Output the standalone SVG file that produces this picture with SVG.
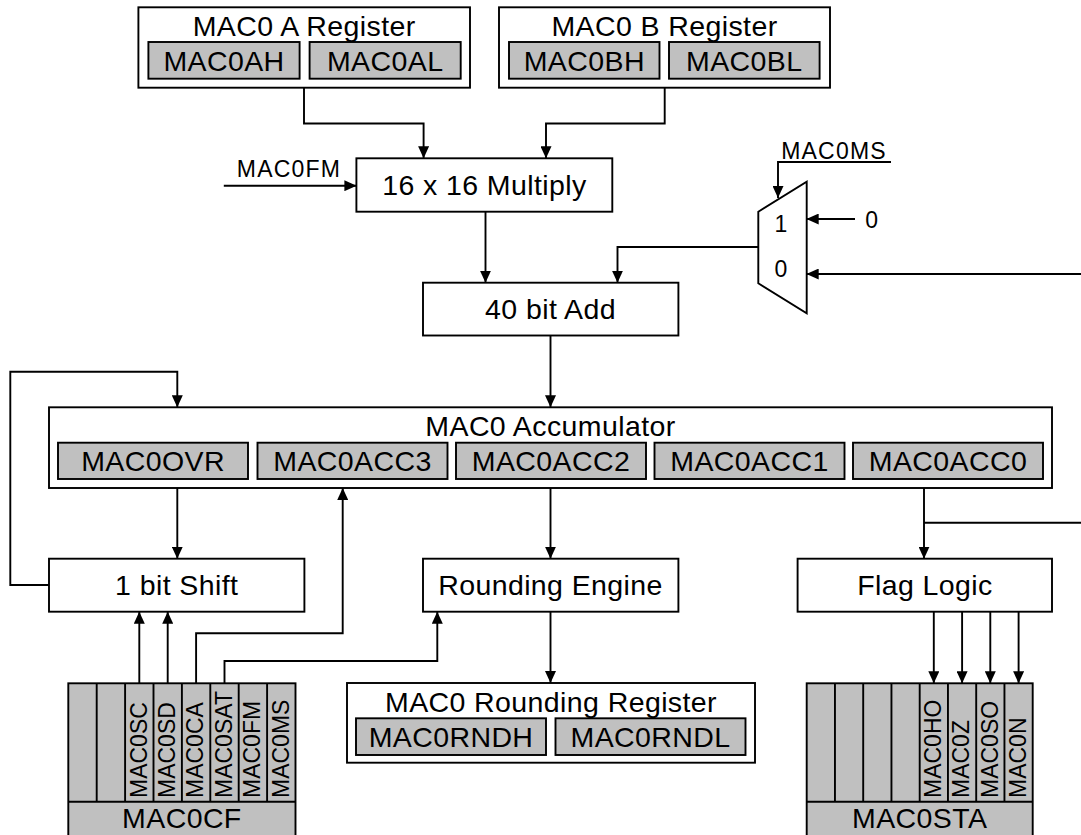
<svg xmlns="http://www.w3.org/2000/svg" width="1081" height="835" viewBox="0 0 1081 835">
<style>
.box{fill:#fff;stroke:#000;stroke-width:1.9}
.reg{fill:#c0c0c0;stroke:#000;stroke-width:1.9}
.dv{stroke:#000;stroke-width:1.9;fill:none}
.t{font-family:"Liberation Sans",Arial,sans-serif;font-size:28.5px;letter-spacing:0.4px;text-anchor:middle;fill:#000}
.s{font-family:"Liberation Sans",Arial,sans-serif;font-size:23px;letter-spacing:1.2px;text-anchor:middle;fill:#000}
.d{font-family:"Liberation Sans",Arial,sans-serif;font-size:23px;text-anchor:middle;fill:#000}
.v{font-family:"Liberation Sans",Arial,sans-serif;font-size:23px;fill:#000}
.c{fill:none;stroke:#000;stroke-width:1.9}
.a{marker-end:url(#ah)}
</style>
<defs>
<marker id="ah" markerUnits="userSpaceOnUse" markerWidth="12" markerHeight="11" refX="12" refY="5.5" orient="auto"><path d="M0,0 L12,5.5 L0,11 z" fill="#000"/></marker>
</defs>
<rect width="1081" height="835" fill="#fff"/>

<g id="connectors">
<path class="c a" d="M304,88 V123.5 H423.6 V158.3"/>
<path class="c a" d="M664.7,88 V123.5 H546 V158.3"/>
<path class="c a" d="M223.8,185.7 H356.4"/>
<path class="c a" d="M485.5,211.7 V282.7"/>
<path class="c a" d="M758.3,247 H617.5 V282.7"/>
<path class="c a" d="M891,162 H778 V198"/>
<path class="c a" d="M855,219 H806.7"/>
<path class="c a" d="M1081,274 H806.7"/>
<path class="c a" d="M550.5,335.5 V407.3"/>
<path class="c a" d="M177.3,488 V558.7"/>
<path class="c a" d="M49,585 H10.3 V371.7 H177.3 V407.3"/>
<path class="c a" d="M550.5,488 V558.7"/>
<path class="c a" d="M924,488 V558.7"/>
<path class="c" d="M924,522.7 H1081"/>
<path class="c a" d="M139.3,683.3 V611.7"/>
<path class="c a" d="M167.7,683.3 V611.7"/>
<path class="c a" d="M196.1,683.3 V633.3 H342.7 V488"/>
<path class="c a" d="M224.5,683.3 V661 H437.3 V611.7"/>
<path class="c a" d="M550.5,611.7 V683"/>
<path class="c a" d="M933.8,611.7 V683.3"/>
<path class="c a" d="M962.1,611.7 V683.3"/>
<path class="c a" d="M990.3,611.7 V683.3"/>
<path class="c a" d="M1018.6,611.7 V683.3"/>
</g>

<g id="mac0a">
<rect class="box" x="138.4" y="7.3" width="331.6" height="80.4"/>
<text class="t" x="304.2" y="36">MAC0 A Register</text>
<rect class="reg" x="148.4" y="42" width="151.2" height="36.7"/>
<text class="t" x="224" y="70.5">MAC0AH</text>
<rect class="reg" x="309.6" y="42" width="151.1" height="36.7"/>
<text class="t" x="385.2" y="70.5">MAC0AL</text>
</g>

<g id="mac0b">
<rect class="box" x="499" y="7.3" width="331" height="80.4"/>
<text class="t" x="664.5" y="36">MAC0 B Register</text>
<rect class="reg" x="509" y="42" width="150.5" height="36.7"/>
<text class="t" x="584.3" y="70.5">MAC0BH</text>
<rect class="reg" x="669" y="42" width="150.6" height="36.7"/>
<text class="t" x="744.3" y="70.5">MAC0BL</text>
</g>

<g id="mac0fm">
<text class="s" x="289" y="177.3">MAC0FM</text>
</g>

<g id="multiply">
<rect class="box" x="356.4" y="158.3" width="255.9" height="53.4"/>
<text class="t" x="484.4" y="195">16 x 16 Multiply</text>
</g>

<g id="mux">
<polygon class="box" points="758.3,211.7 806.7,181.7 806.7,313.3 758.3,283.3"/>
<text class="d" x="781" y="232">1</text>
<text class="d" x="781" y="277">0</text>
</g>

<g id="mac0ms">
<text class="s" x="834" y="159.3">MAC0MS</text>
</g>

<g id="zero">
<text class="d" x="871.7" y="227.5">0</text>
</g>

<g id="add">
<rect class="box" x="423" y="282.7" width="255.4" height="52.8"/>
<text class="t" x="550.5" y="318.5">40 bit Add</text>
</g>

<g id="accumulator">
<rect class="box" x="49" y="407.3" width="1003" height="80.7"/>
<text class="t" x="550.5" y="436">MAC0 Accumulator</text>
<rect class="reg" x="58" y="442.7" width="190" height="36.3"/>
<text class="t" x="153" y="471">MAC0OVR</text>
<rect class="reg" x="257.5" y="442.7" width="190" height="36.3"/>
<text class="t" x="352.5" y="471">MAC0ACC3</text>
<rect class="reg" x="456" y="442.7" width="190" height="36.3"/>
<text class="t" x="551" y="471">MAC0ACC2</text>
<rect class="reg" x="654.5" y="442.7" width="190" height="36.3"/>
<text class="t" x="749.5" y="471">MAC0ACC1</text>
<rect class="reg" x="853" y="442.7" width="190" height="36.3"/>
<text class="t" x="948" y="471">MAC0ACC0</text>
</g>

<g id="shift">
<rect class="box" x="49" y="558.7" width="255.4" height="53"/>
<text class="t" x="176.7" y="595">1 bit Shift</text>
</g>

<g id="rounding">
<rect class="box" x="423" y="558.7" width="255.4" height="53"/>
<text class="t" x="550.5" y="595">Rounding Engine</text>
</g>

<g id="flag">
<rect class="box" x="797.6" y="558.7" width="254.4" height="53"/>
<text class="t" x="925" y="595">Flag Logic</text>
</g>

<g id="rndreg">
<rect class="box" x="347" y="683" width="408" height="79.7"/>
<text class="t" x="551" y="712">MAC0 Rounding Register</text>
<rect class="reg" x="356" y="718.3" width="190" height="36.7"/>
<text class="t" x="451" y="747">MAC0RNDH</text>
<rect class="reg" x="555.5" y="718.3" width="190" height="36.7"/>
<text class="t" x="650.5" y="747">MAC0RNDL</text>
</g>

<g id="mac0cf">
<rect class="reg" x="68.3" y="683.3" width="227.2" height="160"/>
<path class="dv" d="M96.7,683.3V801.7M125.1,683.3V801.7M153.5,683.3V801.7M181.9,683.3V801.7M210.3,683.3V801.7M238.7,683.3V801.7M267.1,683.3V801.7M68.3,801.7H295.5"/>
<text class="v" transform="translate(146.5,798) rotate(-90)">MAC0SC</text>
<text class="v" transform="translate(174.9,798) rotate(-90)">MAC0SD</text>
<text class="v" transform="translate(203.3,798) rotate(-90)">MAC0CA</text>
<text class="v" transform="translate(231.7,798) rotate(-90)">MAC0SAT</text>
<text class="v" transform="translate(260.1,798) rotate(-90)">MAC0FM</text>
<text class="v" transform="translate(288.5,798) rotate(-90)">MAC0MS</text>
<text class="t" x="181.9" y="827.5">MAC0CF</text>
</g>

<g id="mac0sta">
<rect class="reg" x="806.7" y="683.3" width="226" height="160"/>
<path class="dv" d="M834.95,683.3V801.7M863.2,683.3V801.7M891.45,683.3V801.7M919.7,683.3V801.7M947.95,683.3V801.7M976.2,683.3V801.7M1004.45,683.3V801.7M806.7,801.7H1032.7"/>
<text class="v" transform="translate(941,798) rotate(-90)">MAC0HO</text>
<text class="v" transform="translate(969.3,798) rotate(-90)">MAC0Z</text>
<text class="v" transform="translate(997.5,798) rotate(-90)">MAC0SO</text>
<text class="v" transform="translate(1025.8,798) rotate(-90)">MAC0N</text>
<text class="t" x="919.7" y="827.5">MAC0STA</text>
</g>
</svg>
